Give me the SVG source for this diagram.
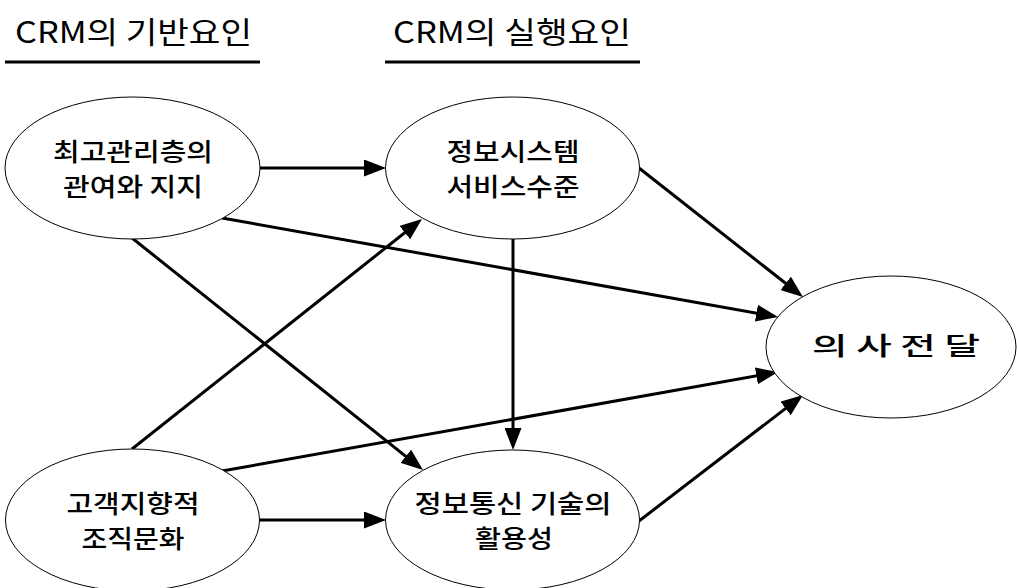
<svg xmlns="http://www.w3.org/2000/svg" width="1017" height="588" viewBox="0 0 1017 588">
<style>
.node ellipse{fill:#fff;stroke:#000;stroke-width:1}
.t{font-family:"Noto Sans CJK KR","Noto Sans",sans-serif;font-size:25px;font-weight:500;fill:#000;text-anchor:middle;dominant-baseline:central}
.h{font-family:"Noto Sans CJK KR","Noto Sans",sans-serif;font-size:30px;font-weight:400;fill:#000;dominant-baseline:central}
.c line{stroke:#000;stroke-width:3;marker-end:url(#ah)}
.u{stroke:#000;stroke-width:3}
</style>
<defs>
<marker id="ah" markerUnits="userSpaceOnUse" markerWidth="22" markerHeight="17" refX="12" refY="8.5" orient="auto">
<path d="M0,0 L22,8.5 L0,17 z" fill="#000"/>
</marker>
</defs>
<rect width="1017" height="588" fill="#fff"/>
<g id="headers">
<text class="h" x="15" y="30" textLength="237" lengthAdjust="spacingAndGlyphs">CRM의 기반요인</text>
<line class="u" x1="5" y1="62" x2="260" y2="62"/>
<text class="h" x="393" y="30" textLength="238" lengthAdjust="spacingAndGlyphs">CRM의 실행요인</text>
<line class="u" x1="385" y1="62" x2="640" y2="62"/>
</g>
<g class="c" id="connectors">
<line x1="260" y1="168" x2="376" y2="168"/>
<line x1="222" y1="218" x2="768.2" y2="315.2"/>
<line x1="132" y1="238" x2="415.2" y2="463.8"/>
<line x1="132" y1="449" x2="414.2" y2="225.2"/>
<line x1="222" y1="471" x2="768.2" y2="373.8"/>
<line x1="259" y1="520" x2="376" y2="520"/>
<line x1="513" y1="239" x2="513" y2="440"/>
<line x1="639" y1="168" x2="795.1" y2="290.8"/>
<line x1="639" y1="521" x2="795.1" y2="401.1"/>
</g>
<g class="node" id="n1">
<ellipse cx="132.5" cy="168" rx="127.5" ry="71"/>
<text class="t" x="133" y="150" textLength="160" lengthAdjust="spacingAndGlyphs">최고관리층의</text>
<text class="t" x="133" y="185" textLength="140" lengthAdjust="spacingAndGlyphs">관여와 지지</text>
</g>
<g class="node" id="n2">
<ellipse cx="512.5" cy="168" rx="127" ry="71"/>
<text class="t" x="513" y="150" textLength="133" lengthAdjust="spacingAndGlyphs">정보시스템</text>
<text class="t" x="513" y="185" textLength="133" lengthAdjust="spacingAndGlyphs">서비스수준</text>
</g>
<g class="node" id="n3">
<ellipse cx="891" cy="347" rx="125" ry="71"/>
<text class="t" x="896" y="344" textLength="168" lengthAdjust="spacingAndGlyphs">의 사 전 달</text>
</g>
<g class="node" id="n4">
<ellipse cx="132.5" cy="520" rx="127" ry="71"/>
<text class="t" x="133" y="502" textLength="133" lengthAdjust="spacingAndGlyphs">고객지향적</text>
<text class="t" x="133" y="537" textLength="103" lengthAdjust="spacingAndGlyphs">조직문화</text>
</g>
<g class="node" id="n5">
<ellipse cx="512.5" cy="520" rx="127" ry="70"/>
<text class="t" x="513" y="502" textLength="197" lengthAdjust="spacingAndGlyphs">정보통신 기술의</text>
<text class="t" x="514" y="537" textLength="78" lengthAdjust="spacingAndGlyphs">활용성</text>
</g>
</svg>
